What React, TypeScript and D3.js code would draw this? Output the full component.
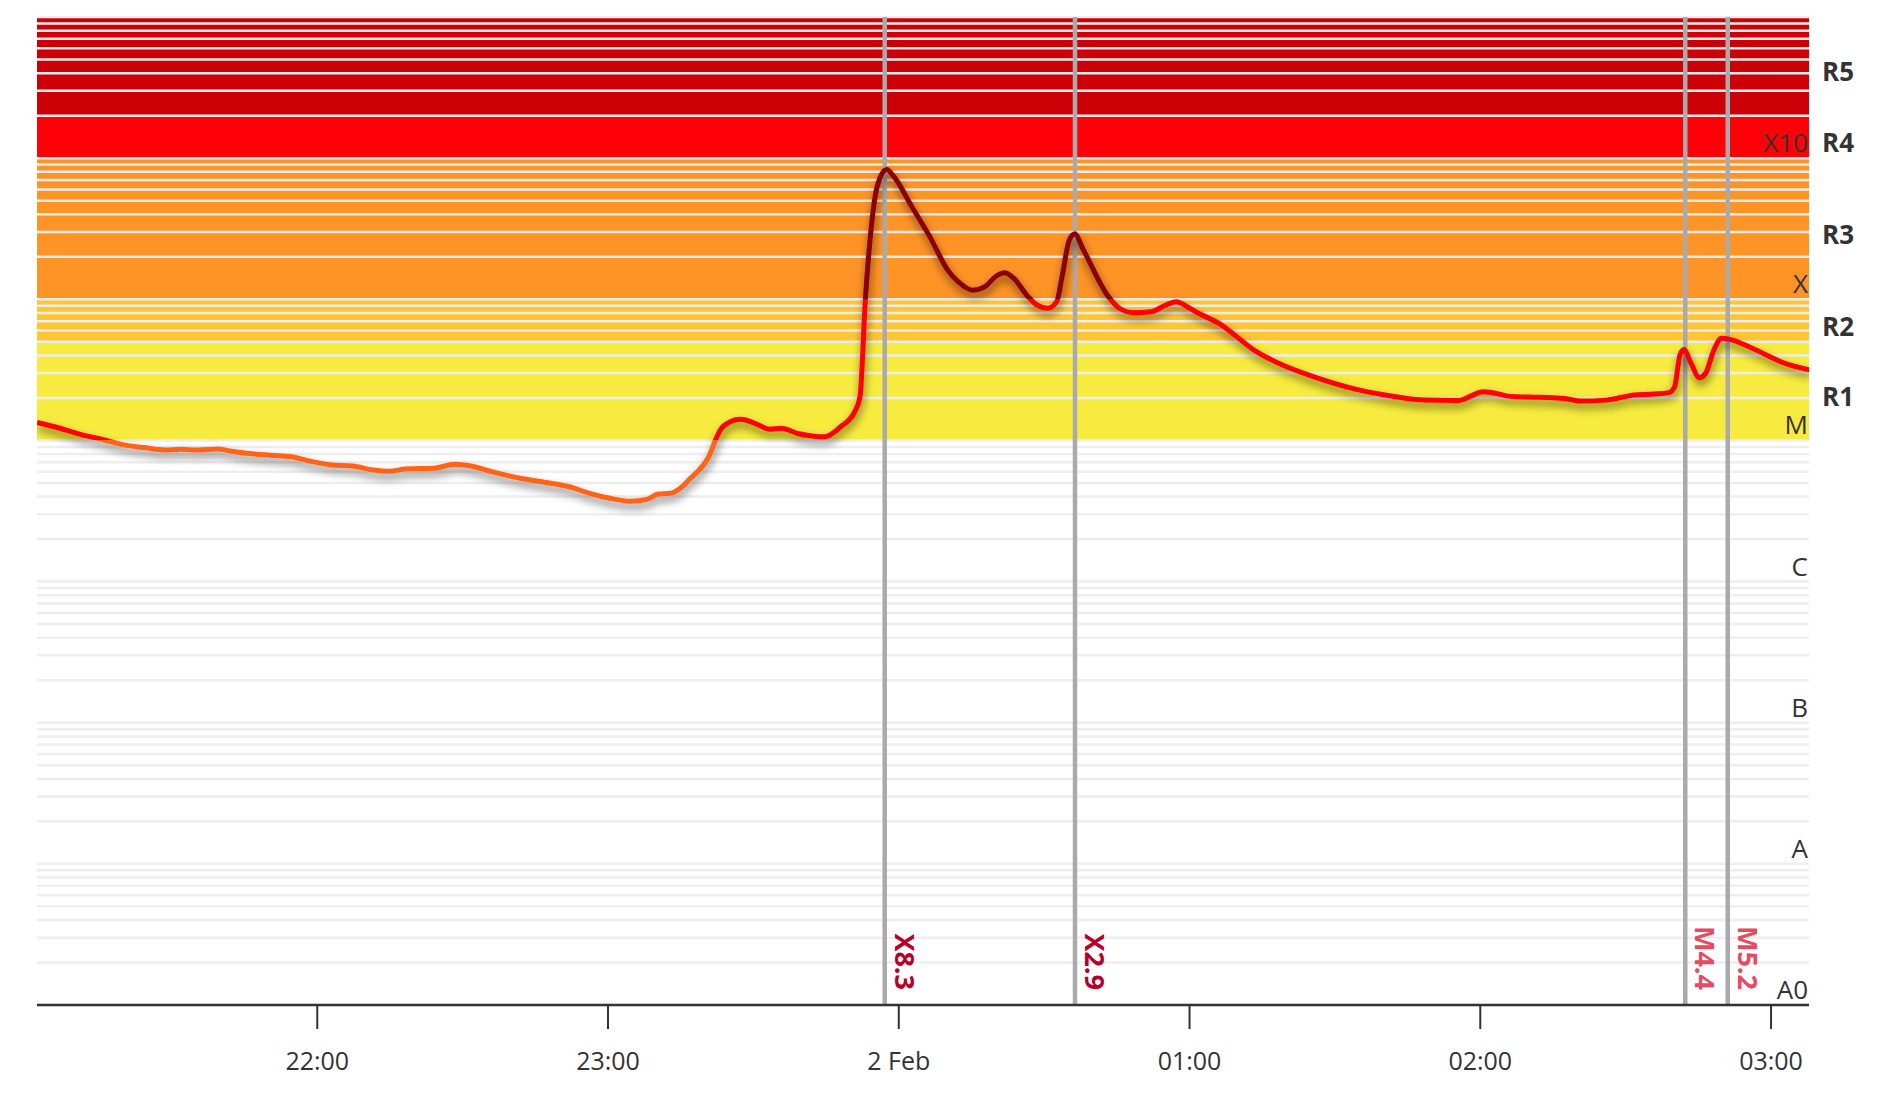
import React from "react";
import * as d3 from "d3";

// GOES X-ray flux, 1 Feb 21:00 -> 2 Feb 03:00 (UTC)
const times = [
  "21:02:12", "21:05:48", "21:11:42", "21:15:30", "21:20:06", "21:24:18", "21:28:30", "21:31:54",
  "21:35:18", "21:39:30", "21:42:00", "21:45:24", "21:50:24", "21:54:42", "21:58:00", "22:03:06",
  "22:07:18", "22:11:30", "22:14:54", "22:18:18", "22:24:06", "22:28:24", "22:31:42", "22:36:00",
  "22:41:54", "22:46:54", "22:52:00", "22:56:12", "23:00:24", "23:04:36", "23:08:00", "23:10:18",
  "23:12:54", "23:14:54", "23:17:00", "23:19:24", "23:20:48", "23:22:12", "23:23:12", "23:25:18",
  "23:27:18", "23:29:24", "23:31:24", "23:33:12", "23:35:48", "23:39:06", "23:42:06", "23:44:42",
  "23:48:00", "23:50:54", "23:52:00", "23:53:06", "23:54:12", "23:55:00", "23:56:06", "23:57:30",
  "23:59:00", "00:02:42", "00:06:24", "00:10:06", "00:12:18", "00:15:12", "00:17:48", "00:20:00",
  "00:21:54", "00:23:42", "00:26:42", "00:28:30", "00:30:42", "00:32:36", "00:33:42", "00:35:12",
  "00:36:18", "00:38:06", "00:43:18", "00:45:30", "00:48:24", "00:52:06", "00:55:06", "00:57:18",
  "00:59:30", "01:01:00", "01:06:36", "01:13:18", "01:19:12", "01:26:00", "01:33:36", "01:40:18",
  "01:48:42", "01:55:30", "01:58:00", "02:00:30", "02:03:54", "02:05:36", "02:12:18", "02:17:24",
  "02:20:48", "02:25:48", "02:29:12", "02:31:42", "02:35:54", "02:38:54", "02:40:06", "02:41:12",
  "02:42:00", "02:43:30", "02:45:12", "02:46:30", "02:48:12", "02:49:48", "02:51:30", "02:56:06",
  "03:02:54", "03:08:00",
];
const flux = [
  1.34e-5, 1.25e-5, 1.09e-5, 1.02e-5, 9.3e-6, 8.9e-6, 8.56e-6, 8.65e-6,
  8.56e-6, 8.7e-6, 8.42e-6, 8.11e-6, 7.85e-6, 7.67e-6, 7.19e-6, 6.7e-6,
  6.59e-6, 6.17e-6, 6.04e-6, 6.28e-6, 6.35e-6, 6.78e-6, 6.59e-6, 6.01e-6,
  5.39e-6, 5.05e-6, 4.7e-6, 4.22e-6, 3.89e-6, 3.71e-6, 3.82e-6, 4.17e-6,
  4.22e-6, 4.58e-6, 5.39e-6, 6.52e-6, 7.67e-6, 1.01e-5, 1.19e-5, 1.36e-5,
  1.41e-5, 1.36e-5, 1.27e-5, 1.2e-5, 1.22e-5, 1.12e-5, 1.075e-5, 1.06e-5,
  1.25e-5, 1.6e-5, 2.04e-5, 9.9e-5, 2.94e-4, 5.05e-4, 7.2e-4, 8.3e-4,
  7.39e-4, 4.53e-4, 2.78e-4, 1.61e-4, 1.33e-4, 1.16e-4, 1.23e-4, 1.45e-4,
  1.54e-4, 1.41e-4, 1.04e-4, 9.11e-5, 8.64e-5, 9.62e-5, 1.45e-4, 2.63e-4,
  2.9e-4, 2.24e-4, 1.04e-4, 8.64e-5, 8.04e-5, 8.17e-5, 9.11e-5, 9.62e-5,
  8.86e-5, 8.26e-5, 6.57e-5, 4.37e-5, 3.42e-5, 2.8e-5, 2.34e-5, 2.1e-5,
  1.93e-5, 1.92e-5, 2.06e-5, 2.21e-5, 2.13e-5, 2.06e-5, 2.02e-5, 1.98e-5,
  1.9e-5, 1.93e-5, 2.02e-5, 2.1e-5, 2.13e-5, 2.18e-5, 2.4e-5, 4.03e-5,
  4.4e-5, 3.52e-5, 2.78e-5, 2.99e-5, 4.37e-5, 5.29e-5, 5.2e-5, 4.5e-5,
  3.52e-5, 3.16e-5,
];

const flareTimes = ["23:57:06", "00:36:22", "02:42:18", "02:51:04"];
const flareLabels = ["X8.3", "X2.9", "M4.4", "M5.2"];

const classLabels = ["A0", "A", "B", "C", "M", "X", "X10"];
const classValues = [1e-9, 1e-8, 1e-7, 1e-6, 1e-5, 1e-4, 1e-3];

const bandNames = ["R1", "R2", "R3", "R4", "R5"];
const bandFrom = [1e-5, 5e-5, 1e-4, 1e-3, 2e-3];
const bandTo = [5e-5, 1e-4, 1e-3, 2e-3, 1e-2];
const bandColors = ["#f6eb3e", "#ffc533", "#fe9326", "#ff0008", "#cc0006"];

const parseTime = (s: string) => {
  const [h, m, sec] = s.split(":").map(Number);
  const day = h >= 12 ? 1 : 2;
  return new Date(Date.UTC(2026, 1, day, h, m, sec));
};

const W = 1883;
const H = 1107;
const margin = { left: 37, right: 74, top: 17, bottom: 102 };

const App: React.FC = () => {
  const x0 = margin.left;
  const x1 = W - margin.right;
  const y0 = margin.top;
  const y1 = H - margin.bottom;

  const x = d3
    .scaleUtc()
    .domain([parseTime("21:02:10"), parseTime("03:07:50")])
    .range([x0, x1]);
  const y = d3.scaleLog().domain([1e-9, 1e-2]).range([y1, y0]);

  const data: [Date, number][] = times.map((t, i) => [parseTime(t), flux[i]]);

  const line = d3
    .line<[Date, number]>()
    .x((d) => x(d[0]))
    .y((d) => y(d[1]))
    .curve(d3.curveMonotoneX);

  const grid: number[] = [];
  for (let e = -9; e < -2; e++) {
    for (let k = 1; k < 10; k++) grid.push(k * Math.pow(10, e));
  }
  grid.push(1e-2);

  const xTicks = x.ticks(d3.utcHour.every(1) as d3.TimeInterval);
  const fmt = (d: Date) =>
    d.getUTCHours() === 0 ? d3.utcFormat("%-d %b")(d) : d3.utcFormat("%H:%M")(d);

  const tX = (y(1e-4) - y0) / (y1 - y0);
  const tM = (y(1e-5) - y0) / (y1 - y0);

  const font = "'Open Sans', 'Noto Sans', sans-serif";

  return (
    <svg
      width={W}
      height={H}
      style={{ position: "absolute", left: 0, top: 0, display: "block", background: "#fff" }}
      fontFamily={font}
    >
      <defs>
        <clipPath id="plot">
          <rect x={x0} y={y0} width={x1 - x0} height={y1 - y0} />
        </clipPath>
        <linearGradient id="fluxColor" gradientUnits="userSpaceOnUse" x1={0} x2={0} y1={y0} y2={y1}>
          <stop offset={0} stopColor="#8b0000" />
          <stop offset={tX} stopColor="#8b0000" />
          <stop offset={tX} stopColor="#ff0000" />
          <stop offset={tM} stopColor="#ff0000" />
          <stop offset={tM} stopColor="#ff6414" />
          <stop offset={1} stopColor="#ff6414" />
        </linearGradient>
        <filter id="shadow" x="-5%" y="-20%" width="110%" height="140%">
          <feDropShadow dx={1} dy={5} stdDeviation={4.5} floodColor="#000" floodOpacity={0.55} />
        </filter>
      </defs>

      {/* radio blackout bands */}
      {bandNames.map((n, i) => (
        <rect
          key={n}
          x={x0}
          width={x1 - x0}
          y={y(bandTo[i])}
          height={y(bandFrom[i]) - y(bandTo[i])}
          fill={bandColors[i]}
        />
      ))}

      {/* grid */}
      {grid.map((v) => (
        <line key={v} x1={x0} x2={x1} y1={y(v)} y2={y(v)} stroke="#eeeeee" strokeWidth={2.5} />
      ))}

      {/* flare markers */}
      {flareTimes.map((t) => (
        <line
          key={t}
          x1={x(parseTime(t))}
          x2={x(parseTime(t))}
          y1={y0}
          y2={y1}
          stroke="#aaaaaa"
          strokeWidth={4.5}
        />
      ))}

      {/* flux curve */}
      <g clipPath="url(#plot)">
        <path
          d={line(data) ?? ""}
          fill="none"
          stroke="url(#fluxColor)"
          strokeWidth={5}
          strokeLinejoin="round"
          filter="url(#shadow)"
        />
      </g>

      {/* flare labels */}
      {flareTimes.map((t, i) => (
        <text
          key={t}
          transform={`translate(${x(parseTime(t)) + 10},${y1 - 15}) rotate(90)`}
          textAnchor="end"
          fontSize={27}
          fontWeight="bold"
          fill={flareLabels[i].startsWith("X") ? "#b8002b" : "#e84a5f"}
        >
          {flareLabels[i]}
        </text>
      ))}

      {/* class labels */}
      {classLabels.map((c, i) => (
        <text key={c} x={x1 - 1} y={y(classValues[i]) - 6} textAnchor="end" fontSize={26} fill="#333">
          {c}
        </text>
      ))}

      {/* band labels */}
      {bandNames.map((n, i) => (
        <text
          key={n}
          x={x1 + 13}
          y={(y(bandFrom[i]) + y(bandTo[i])) / 2 + 15}
          fontSize={26}
          fontWeight="bold"
          fill="#333"
        >
          {n}
        </text>
      ))}

      {/* x axis */}
      <line x1={x0} x2={x1} y1={y1} y2={y1} stroke="#333" strokeWidth={2.5} />
      {xTicks.map((d) => (
        <g key={d.getTime()} transform={`translate(${x(d)},0)`}>
          <line y1={y1} y2={y1 + 24} stroke="#333" strokeWidth={2} />
          <text y={y1 + 65} textAnchor="middle" fontSize={25} fill="#333">
            {fmt(d)}
          </text>
        </g>
      ))}
    </svg>
  );
};

export default App;
